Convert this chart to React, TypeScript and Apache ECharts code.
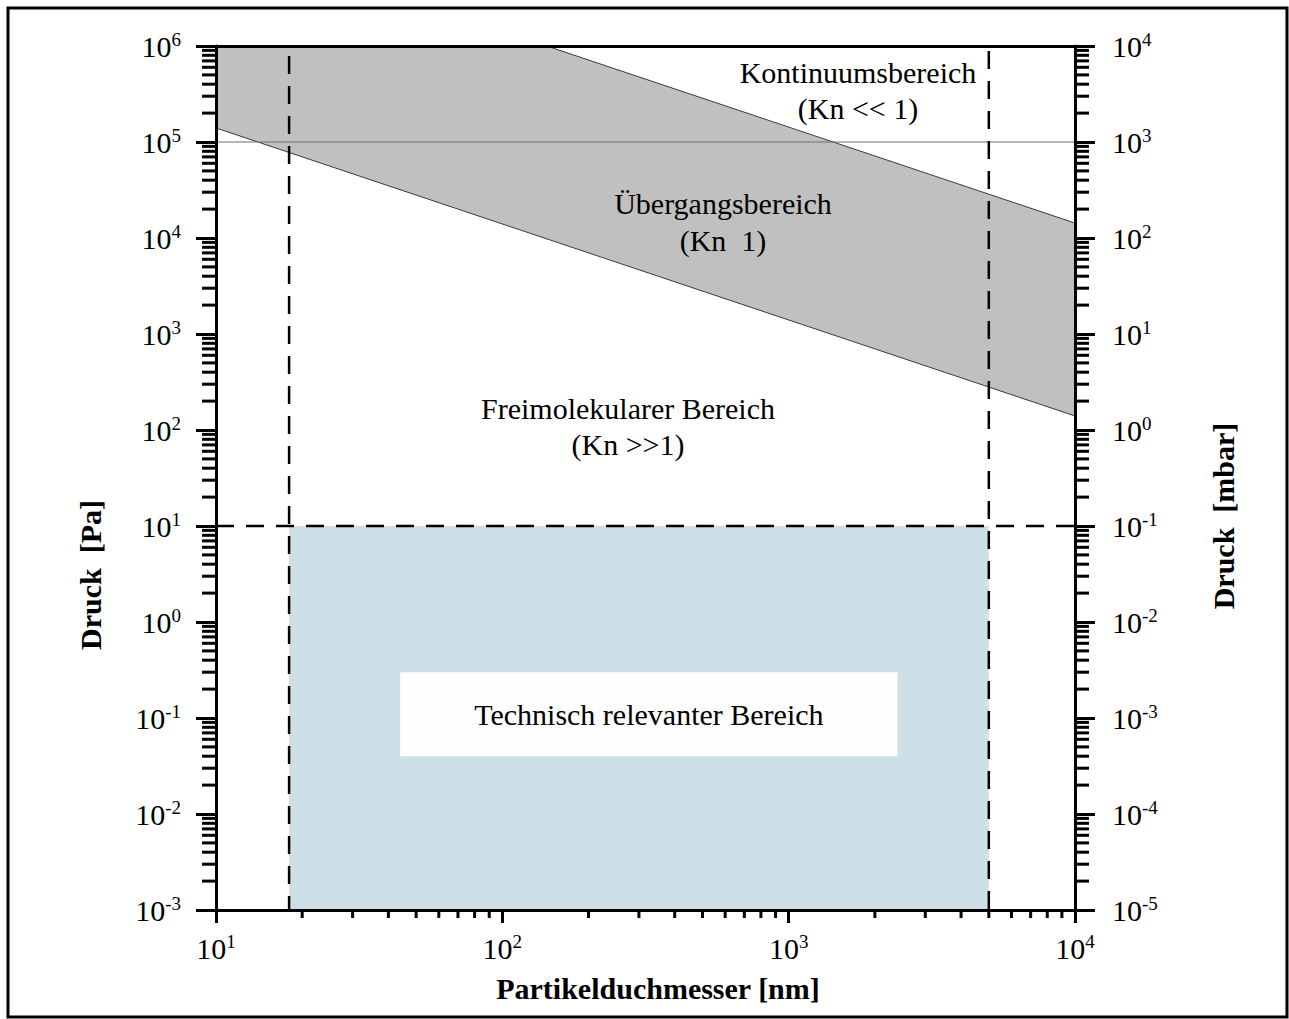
import React, { useEffect, useRef } from "react";
import * as echarts from "echarts";

// ---- axis ranges ----
const xMin = 10;
const xMax = 1e4;
const paMin = 1e-3;
const paMax = 1e6;
const mbarMin = 1e-5;
const mbarMax = 1e4;

// ---- transition band boundaries (Kn ~ 1) ----
const upperBoundD = [143, 10000];
const upperBoundP = [1e6, 14300];
const lowerBoundD = [10, 10000];
const lowerBoundP = [1.4e5, 140];

// ---- reference lines ----
const atmPressure = 1e5;
const relevantDMin = 18;
const relevantDMax = 5000;
const relevantPMax = 10;

// ---- label box in the relevant area ----
const labelBoxD = [44, 2400];
const labelBoxP = [0.04, 0.3];

// ---- tick lists ----
const minorMultipliers = [2, 3, 4, 5, 6, 7, 8, 9];
const xDecades = [1e1, 1e2, 1e3];
const paDecades = [1e-3, 1e-2, 1e-1, 1e0, 1e1, 1e2, 1e3, 1e4, 1e5];
const mbarDecades = [1e-5, 1e-4, 1e-3, 1e-2, 1e-1, 1e0, 1e1, 1e2, 1e3];

const FONT = '"Liberation Serif", "Times New Roman", serif';

const minorsOf = (decades: number[]) =>
  decades.flatMap((d) => minorMultipliers.map((m) => d * m));

const supLabel = (v: number) => {
  const e = Math.round(Math.log10(v));
  return `{b|10}{s|${e}}`;
};

const richLabel = {
  b: { fontSize: 30, fontFamily: FONT, color: "#000", lineHeight: 32 },
  s: { fontSize: 19, fontFamily: FONT, color: "#000", lineHeight: 17, verticalAlign: "top" },
};

export default function App() {
  const ref = useRef<HTMLDivElement>(null);

  useEffect(() => {
    if (!ref.current) return;
    const chart = echarts.init(ref.current, undefined, { renderer: "svg" });

    const xMinor = minorsOf(xDecades);
    const paMinor = minorsOf(paDecades);
    const mbarMinor = minorsOf(mbarDecades);

    const axisLine = { show: true, lineStyle: { color: "#000", width: 3 } };

    const option: any = {
      animation: false,
      backgroundColor: "#fff",
      grid: { left: 216, right: 214, top: 46, bottom: 109, containLabel: false },
      xAxis: [
        {
          type: "log",
          logBase: 10,
          min: xMin,
          max: xMax,
          interval: 1,
          position: "bottom",
          z: 10,
          axisLine,
          axisTick: { show: true, inside: false, length: 13, lineStyle: { color: "#000", width: 3 } },
          minorTick: { show: false },
          splitLine: { show: false },
          axisLabel: { formatter: supLabel, rich: richLabel, margin: 22 },
        },
        {
          type: "log",
          logBase: 10,
          min: xMin,
          max: xMax,
          position: "top",
          z: 10,
          axisLine,
          axisTick: { show: false },
          splitLine: { show: false },
          axisLabel: { show: false },
        },
      ],
      yAxis: [
        {
          type: "log",
          logBase: 10,
          min: paMin,
          max: paMax,
          interval: 1,
          position: "left",
          z: 10,
          axisLine,
          axisTick: { show: true, inside: false, length: 20, lineStyle: { color: "#000", width: 3 } },
          splitLine: { show: false },
          axisLabel: { formatter: supLabel, rich: richLabel, margin: 35 },
        },
        {
          type: "log",
          logBase: 10,
          min: mbarMin,
          max: mbarMax,
          interval: 1,
          position: "right",
          z: 10,
          axisLine,
          axisTick: { show: true, inside: false, length: 20, lineStyle: { color: "#000", width: 3 } },
          splitLine: { show: false },
          axisLabel: { formatter: supLabel, rich: richLabel, margin: 37, align: "left" },
        },
      ],
      series: [
        // technically relevant area (light blue)
        {
          type: "custom",
          z: 1,
          silent: true,
          data: [[relevantDMin, paMin]],
          renderItem: (_p: any, api: any) => {
            const a = api.coord([relevantDMin, relevantPMax]);
            const b = api.coord([relevantDMax, paMin]);
            return {
              type: "rect",
              shape: { x: a[0], y: a[1], width: b[0] - a[0], height: b[1] - a[1] },
              style: { fill: "#cde0e8" },
            };
          },
        },
        // white label box
        {
          type: "custom",
          z: 2,
          silent: true,
          data: [[labelBoxD[0], labelBoxP[1]]],
          renderItem: (_p: any, api: any) => {
            const a = api.coord([labelBoxD[0], labelBoxP[1]]);
            const b = api.coord([labelBoxD[1], labelBoxP[0]]);
            return {
              type: "group",
              children: [
                {
                  type: "rect",
                  shape: { x: a[0], y: a[1], width: b[0] - a[0], height: b[1] - a[1] },
                  style: { fill: "#fefefe" },
                },
                {
                  type: "text",
                  style: {
                    text: "Technisch relevanter Bereich",
                    x: (a[0] + b[0]) / 2,
                    y: (a[1] + b[1]) / 2,
                    align: "center",
                    verticalAlign: "middle",
                    fontSize: 30,
                    fontFamily: FONT,
                    fill: "#000",
                  },
                },
              ],
            };
          },
        },
        // gray transition band
        {
          type: "custom",
          z: 3,
          silent: true,
          data: [[xMin, paMax]],
          renderItem: (_p: any, api: any) => {
            const upper = upperBoundD.map((d, i) => [d, upperBoundP[i]]);
            const lower = lowerBoundD.map((d, i) => [d, lowerBoundP[i]]).reverse();
            const pts = [[xMin, paMax], ...upper, ...lower].map((p) => api.coord(p));
            return { type: "polygon", shape: { points: pts }, style: { fill: "#c0c0c0" } };
          },
        },
        // band edges
        {
          type: "line",
          z: 4,
          silent: true,
          symbol: "none",
          data: upperBoundD.map((d, i) => [d, upperBoundP[i]]),
          lineStyle: { color: "#3a3a3a", width: 1 },
        },
        {
          type: "line",
          z: 4,
          silent: true,
          symbol: "none",
          data: lowerBoundD.map((d, i) => [d, lowerBoundP[i]]),
          lineStyle: { color: "#3a3a3a", width: 1 },
        },
        // atmospheric pressure line
        {
          type: "line",
          z: 4,
          silent: true,
          symbol: "none",
          data: [
            [xMin, atmPressure],
            [xMax, atmPressure],
          ],
          lineStyle: { color: "#6e6e6e", width: 1.2 },
        },
        // dashed limits
        {
          type: "line",
          z: 5,
          silent: true,
          symbol: "none",
          data: [
            [relevantDMin, paMax],
            [relevantDMin, paMin],
          ],
          lineStyle: { color: "#000", width: 2.5, type: [18, 12], dashOffset: -10 },
        },
        {
          type: "line",
          z: 5,
          silent: true,
          symbol: "none",
          data: [
            [relevantDMax, paMax],
            [relevantDMax, paMin],
          ],
          lineStyle: { color: "#000", width: 2.5, type: [18, 12], dashOffset: -5 },
        },
        {
          type: "line",
          z: 5,
          silent: true,
          symbol: "none",
          data: [
            [xMin, relevantPMax],
            [xMax, relevantPMax],
          ],
          lineStyle: { color: "#000", width: 2.5, type: [18, 12] },
        },
        // minor ticks x
        {
          type: "custom",
          z: 12,
          silent: true,
          data: xMinor.map((v) => [v, paMin]),
          renderItem: (_p: any, api: any) => {
            const p = api.coord([api.value(0), api.value(1)]);
            return {
              type: "line",
              shape: { x1: p[0], y1: p[1], x2: p[0], y2: p[1] + 8 },
              style: { stroke: "#000", lineWidth: 3 },
            };
          },
        },
        // minor ticks left y
        {
          type: "custom",
          z: 12,
          silent: true,
          data: paMinor.map((v) => [xMin, v]),
          renderItem: (_p: any, api: any) => {
            const p = api.coord([api.value(0), api.value(1)]);
            return {
              type: "line",
              shape: { x1: p[0] - 14, y1: p[1], x2: p[0], y2: p[1] },
              style: { stroke: "#000", lineWidth: 3 },
            };
          },
        },
        // minor ticks right y
        {
          type: "custom",
          z: 12,
          silent: true,
          yAxisIndex: 1,
          data: mbarMinor.map((v) => [xMax, v]),
          renderItem: (_p: any, api: any) => {
            const p = api.coord([api.value(0), api.value(1)]);
            return {
              type: "line",
              shape: { x1: p[0], y1: p[1], x2: p[0] + 14, y2: p[1] },
              style: { stroke: "#000", lineWidth: 3 },
            };
          },
        },
      ],
      graphic: [
        {
          type: "rect",
          silent: true,
          shape: { x: 8, y: 8, width: 1279, height: 1009 },
          style: { fill: "none", stroke: "#000", lineWidth: 3 },
        },
        ...[
          ["Kontinuumsbereich", 858, 72],
          ["(Kn << 1)", 858, 108],
          ["Übergangsbereich", 723, 203],
          ["(Kn  1)", 723, 240],
          ["Freimolekularer Bereich", 628, 408],
          ["(Kn >>1)", 628, 444],
        ].map(([t, x, y]) => ({
          type: "text",
          silent: true,
          z: 20,
          x: x as number,
          y: y as number,
          style: {
            text: t as string,
            align: "center",
            verticalAlign: "middle",
            fontSize: 30,
            fontFamily: FONT,
            fill: "#000",
          },
        })),
        {
          type: "text",
          silent: true,
          x: 658,
          y: 988,
          style: {
            text: "Partikelduchmesser [nm]",
            align: "center",
            verticalAlign: "middle",
            fontSize: 30,
            fontWeight: "bold",
            fontFamily: FONT,
            fill: "#000",
          },
        },
        {
          type: "text",
          silent: true,
          x: 90,
          y: 575,
          rotation: Math.PI / 2,
          style: {
            text: "Druck  [Pa]",
            align: "center",
            verticalAlign: "middle",
            fontSize: 30,
            fontWeight: "bold",
            fontFamily: FONT,
            fill: "#000",
          },
        },
        {
          type: "text",
          silent: true,
          x: 1223,
          y: 516,
          rotation: Math.PI / 2,
          style: {
            text: "Druck  [mbar]",
            align: "center",
            verticalAlign: "middle",
            fontSize: 30,
            fontWeight: "bold",
            fontFamily: FONT,
            fill: "#000",
          },
        },
      ],
    };

    chart.setOption(option);
    return () => chart.dispose();
  }, []);

  return (
    <div
      ref={ref}
      style={{ position: "absolute", left: 0, top: 0, width: 1289, height: 1019, background: "#fff" }}
    />
  );
}
